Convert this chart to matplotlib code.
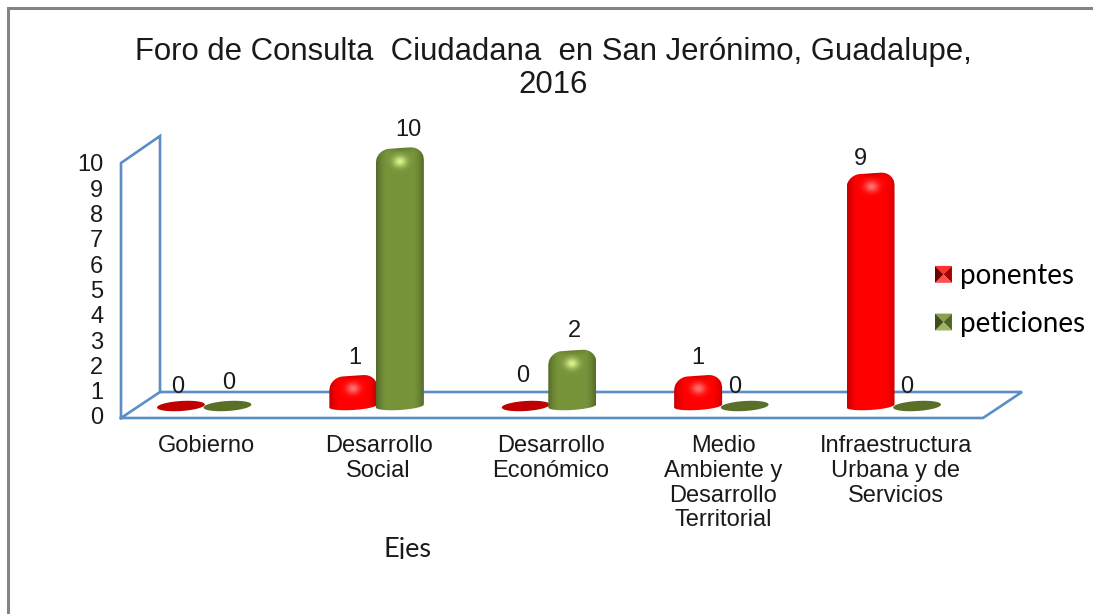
import matplotlib
matplotlib.use('Agg')
import matplotlib.pyplot as plt
import numpy as np
from matplotlib.legend_handler import HandlerBase
from matplotlib.patches import Patch, PathPatch, Polygon, Rectangle
from matplotlib.path import Path

# chart data
categories = ['Gobierno', 'Desarrollo\nSocial', 'Desarrollo\nEconómico',
              'Medio\nAmbiente y\nDesarrollo\nTerritorial',
              'Infraestructura\nUrbana y de\nServicios']
ponentes = [0, 1, 0, 1, 9]
peticiones = [0, 10, 2, 0, 0]
y_ticks = list(range(11))
series_names = ['ponentes', 'peticiones']

# label nudges in pixels (the original labels were placed by hand)
ponentes_dx = [-3, 1, -3, 0, -10]
ponentes_dy = [19, 23, 30, 23, 19]
peticiones_dx = [1, 9, 2, -10, -10]
peticiones_dy = [23, 23, 24, 19, 19]

W, H = 1093, 614
BLUE = '#5b8ec6'
TEXT = '#1a1a1a'
SANS = ['Liberation Sans', 'DejaVu Sans']
CALIBRI_LIKE = ['Lato', 'DejaVu Sans']
LABEL_SIZE = 17

# edge, centre, zero-height colour and the bevel shades of the legend key
RED = dict(edge=(0.78, 0, 0), mid=(1, 0, 0), top=(0.80, 0, 0), glow=(1, 0.45, 0.45), flat='#c00000',
           key=['#ff3030', '#a00000', '#ff5050', '#700000'])
GREEN = dict(edge=(0.33, 0.42, 0.16), mid=(0.47, 0.58, 0.23), top=(0.38, 0.48, 0.18), glow=(0.85, 0.95, 0.55),
             flat='#5a7029', key=['#8aa050', '#4f6324', '#a0b468', '#3d4d1c'])


def px_axes(left, top, right, bottom):
    # axes rectangle given in image pixels
    return fig.add_axes([left / W, 1 - bottom / H, (right - left) / W, (bottom - top) / H])


def draw_cylinder(ax, x, value, style):
    # a rounded column, or a flat disc when the value is zero
    px_x = 1 / 172.4
    px_y = 1 / 25.3
    half = 24
    u = np.linspace(-1, 1, 80)
    if value == 0:
        upper = 5 * np.sqrt(1 - u ** 2) + 1.5 * u
        lower = -5 * np.sqrt(1 - u ** 2) + 1.5 * u
        xs = np.r_[u, u[::-1]] * half * px_x + x
        ys = np.r_[lower, upper[::-1]] * px_y
        path = Path(np.c_[xs, ys])
        ax.add_patch(PathPatch(path, facecolor=style['flat'], edgecolor='none', zorder=3))
        return
    # top outline: flat in the middle, rounded corners
    corner = 1 - np.clip(np.abs(u) - 0.42, 0, None) / 0.58
    dome = 13 * np.sqrt(np.clip(1 - (1 - corner) ** 2, 0, 1)) - 13
    top_px = 5 + dome + 1.5 * u
    bottom_px = -4 * np.sqrt(1 - u ** 2) + 1.5 * u
    xs = np.r_[u, u[::-1]] * half * px_x + x
    ys = np.r_[bottom_px * px_y, value + top_px[::-1] * px_y]
    path = Path(np.c_[xs, ys])

    # shading image: darker towards the sides, cap and highlight at the top
    low, high = -7 * px_y, value + 8 * px_y
    height_px = int((high - low) / px_y)
    gx = np.linspace(-1, 1, 94)
    gy = np.linspace(high, low, height_px)
    xx, yy = np.meshgrid(gx, gy)
    side = np.clip((np.abs(xx) - 0.55) / 0.45, 0, 1)[..., None] ** 1.5
    img = np.array(style['mid']) * (1 - side) + np.array(style['edge']) * side
    below_top = (value + 5 * px_y - yy) / px_y
    cap = np.clip(1 - below_top / 5, 0, 1)[..., None] * np.clip(1 - np.abs(xx) / 0.9, 0, 1)[..., None]
    img = img * (1 - cap) + np.array(style['top']) * cap
    glow = np.exp(-((xx / 0.28) ** 2 + ((below_top - 13) / 5.5) ** 2))[..., None]
    img = img * (1 - glow) + np.array(style['glow']) * glow
    im = ax.imshow(img, extent=(x - half * px_x, x + half * px_x, low, high),
                   aspect='auto', interpolation='bilinear', zorder=3)
    im.set_clip_path(PathPatch(path, transform=ax.transData))


class BevelKey(HandlerBase):
    # legend key as a small bevelled square, like the 3D chart marker
    def create_artists(self, legend, orig_handle, xdescent, ydescent, width, height, fontsize, trans):
        shades = orig_handle.shades
        x0, y0 = -xdescent, -ydescent + (height - width) / 2
        x1, y1 = x0 + width, y0 + width
        cx, cy = (x0 + x1) / 2, (y0 + y1) / 2
        corners = [((x0, y1), (x1, y1)), ((x1, y1), (x1, y0)), ((x0, y0), (x1, y0)), ((x0, y0), (x0, y1))]
        tris = []
        for (a, b), shade in zip(corners, shades):
            tris.append(Polygon([a, b, (cx, cy)], closed=True, facecolor=shade, edgecolor='none', transform=trans))
        return tris


fig = plt.figure(figsize=(W / 100, H / 100), dpi=100, facecolor='white')

# page layer in pixels: frame and the 3D box of the chart
ax_bg = fig.add_axes([0, 0, 1, 1])
ax_bg.set_xlim(0, W)
ax_bg.set_ylim(H, 0)
ax_bg.axis('off')
ax_bg.plot([8, 8, W], [H, 8, 8], color='#848484', lw=2.2, solid_joinstyle='miter')
ax_bg.plot([121, 121, 160, 160], [418, 163, 136, 392], color=BLUE, lw=1.9, solid_joinstyle='miter')
ax_bg.plot([121, 160, 1022, 983, 121], [418, 392, 392, 418, 418], color=BLUE, lw=1.9, solid_joinstyle='miter')

# front plane carries the axis labels
ax_front = px_axes(120, 163, 982, 416)
ax_front.patch.set_alpha(0)
ax_front.set_xlim(-0.5, 4.5)
ax_front.set_ylim(0, 10)
for spine in ax_front.spines.values():
    spine.set_visible(False)
ax_front.set_yticks(y_ticks)
ax_front.set_yticklabels([str(t) for t in y_ticks], fontsize=LABEL_SIZE, family=SANS, color=TEXT)
ax_front.set_xticks(range(len(categories)))
ax_front.set_xticklabels(categories, fontsize=LABEL_SIZE, family=SANS, color=TEXT, linespacing=1.15)
ax_front.tick_params(axis='y', length=0, pad=12)
ax_front.tick_params(axis='x', length=0, pad=14)

# columns stand on a plane a little behind the front one; one spare unit
# on each end so the rounded tops and bases are not cut by the axes box
ax_bars = px_axes(118, 153 - 25.3, 980, 406 + 25.3)
ax_bars.patch.set_alpha(0)
ax_bars.axis('off')

offset = 0.135
for i in range(len(categories)):
    draw_cylinder(ax_bars, i - offset, ponentes[i], RED)
for i in range(len(categories)):
    draw_cylinder(ax_bars, i + offset, peticiones[i], GREEN)
ax_bars.set_xlim(-0.5, 4.5)
ax_bars.set_ylim(-1, 11)

for i in range(len(categories)):
    ax_bars.annotate(str(ponentes[i]), (i - offset, ponentes[i]), annotation_clip=False,
                     xytext=(ponentes_dx[i] * 0.72, ponentes_dy[i] * 0.72), textcoords='offset points',
                     ha='center', va='center', fontsize=LABEL_SIZE, family=SANS, color=TEXT, zorder=5)
    ax_bars.annotate(str(peticiones[i]), (i + offset, peticiones[i]), annotation_clip=False,
                     xytext=(peticiones_dx[i] * 0.72, peticiones_dy[i] * 0.72), textcoords='offset points',
                     ha='center', va='center', fontsize=LABEL_SIZE, family=SANS, color=TEXT, zorder=5)

fig.suptitle('Foro de Consulta  Ciudadana  en San Jerónimo, Guadalupe,\n2016', x=553 / W, y=1 - 37 / H,
             va='top', fontsize=22.4, family=SANS, color=TEXT, linespacing=1.12)

# legend
key_red = Patch(facecolor=RED['flat'], label=series_names[0])
key_red.shades = RED['key']
key_green = Patch(facecolor=GREEN['flat'], label=series_names[1])
key_green.shades = GREEN['key']
fig.legend(handles=[key_red, key_green], handler_map={Patch: BevelKey()}, loc='center left',
           bbox_to_anchor=(935 / W, 1 - 300 / H), frameon=False, borderpad=0, borderaxespad=0,
           handlelength=0.61, handleheight=0.61, handletextpad=0.3, labelspacing=0.78,
           prop={'family': CALIBRI_LIKE, 'size': 20})

# the axis title in the source is a pasted text, its descender is cut off
ax_bg.text(408, 550, 'Ejes', ha='center', va='center', fontsize=19.5, family=CALIBRI_LIKE, color=TEXT, zorder=6)
ax_bg.add_patch(Rectangle((380, 558.5), 60, 12, facecolor='white', edgecolor='none', zorder=7))

fig.savefig('out.png', dpi=100)
